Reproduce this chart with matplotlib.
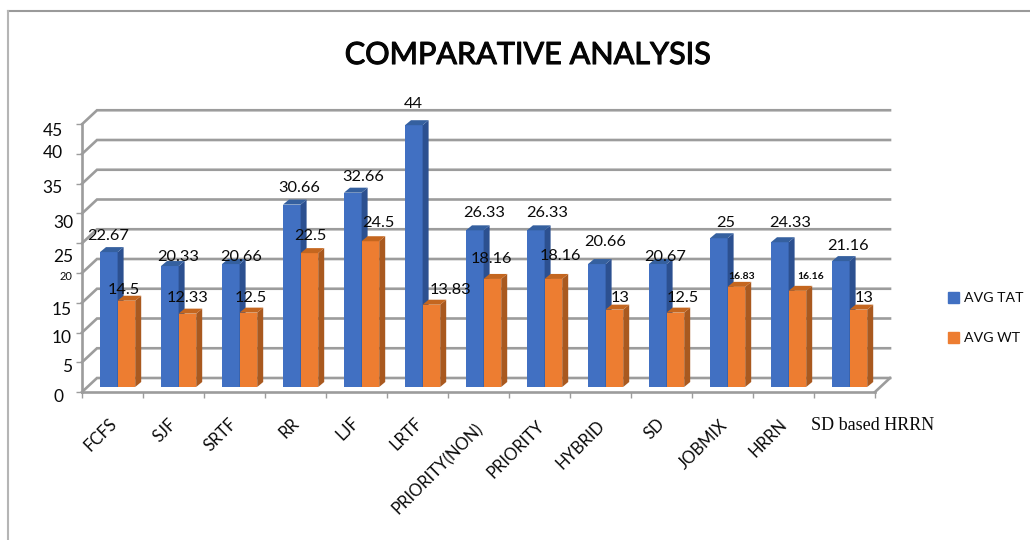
import matplotlib
matplotlib.use("Agg")
import matplotlib.pyplot as plt
import matplotlib.patheffects as pe
from matplotlib.lines import Line2D
from matplotlib.patches import Patch

categories = ["FCFS", "SJF", "SRTF", "RR", "LJF", "LRTF", "PRIORITY(NON)", "PRIORITY",
              "HYBRID", "SD", "JOBMIX", "HRRN", "SD based HRRN"]
avg_tat = [22.67, 20.33, 20.66, 30.66, 32.66, 44, 26.33, 26.33, 20.66, 20.67, 25, 24.33, 21.16]
avg_wt = [14.5, 12.33, 12.5, 22.5, 24.5, 13.83, 18.16, 18.16, 13, 12.5, 16.83, 16.16, 13]
tat_text = ["22.67", "20.33", "20.66", "30.66", "32.66", "44", "26.33", "26.33", "20.66", "20.67", "25", "24.33", "21.16"]
wt_text = ["14.5", "12.33", "12.5", "22.5", "24.5", "13.83", "18.16", "18.16", "13", "12.5", "16.83", "16.16", "13"]
y_ticks = [0, 5, 10, 15, 20, 25, 30, 35, 40, 45]

# label nudges in pixels, the original chart was hand edited
tat_dx = [-1, 8, 10, 7, 10, 0, 9, 11, 8, 7, 7, 10, 7]
tat_dy = [16, 9, 7, 17, 16, 21, 17, 17, 22, 7, 15, 19, 15]
wt_dx = [-3, 0, 2, 1, 8, 19, -1, 7, 6, 7, 5, 13, 6]
wt_dy = [11, 16, 15, 17, 18, 15, 20, 23, 12, 15, 10, 14, 12]
cat_cx = [101, 165, 221, 289, 348, 406, 438, 516, 581, 655, 703, 768, 873]
cat_cy = [435, 430, 435, 428, 429, 434, 469, 449, 445, 429, 445, 438, 426]
ytick_dx = [-19, -10, -10, -10, -10, -9, -9, -19, -19, -19]
ytick_dy = [-5, -5, -5.5, -7, -4, -14, -9.5, -4, 1, -7]

W, H = 1030, 540
X0, X1 = 82, 875
Y0 = 392
PX_Y = 5.95
GRID = "#9c9c9c"
BLUE, BLUE_SIDE, BLUE_TOP = "#4170c2", "#2c5090", "#35609f"
ORANGE, ORANGE_SIDE, ORANGE_TOP = "#ed7d31", "#a9591f", "#c4661f"
INK = "#0a0a0a"

plt.rcParams["font.family"] = ["Lato", "DejaVu Sans"]

fig = plt.figure(figsize=(W / 100, H / 100), dpi=100)
ax = fig.add_axes([X0 / W, (H - Y0) / H, (X1 - X0) / W, 45 * PX_Y / H])
ax.set_xlim(0, 13)
ax.set_ylim(0, 45)
ax.patch.set_visible(False)

px_x = 13 / (X1 - X0)   # one pixel in data units
px_y = 1 / PX_Y

# walls and floor
back_x, back_y = 15 * px_x, 14 * px_y
for v in y_ticks:
    ax.plot([0, back_x, 13 + back_x], [v, v + back_y, v + back_y], color=GRID, lw=1.9,
            clip_on=False, zorder=1, solid_joinstyle="miter")
ax.plot([13, 13 + back_x], [0, back_y], color=GRID, lw=1.9, clip_on=False, zorder=1)

for s in ["top", "right"]:
    ax.spines[s].set_visible(False)
for s in ["left", "bottom"]:
    ax.spines[s].set_color(GRID)
    ax.spines[s].set_linewidth(1.9)
    ax.spines[s].set_zorder(2)

ax.set_yticks(y_ticks)
ax.set_yticklabels([])
ax.set_xticks(range(14))
ax.set_xticklabels([])
ax.tick_params(axis="both", color=GRID, width=1, length=4.5)


def draw_bar(x, v, w, front, side, top):
    base = 5 * px_y
    dx, dy = 6 * px_x, 5 * px_y
    ax.bar(x, v, w, bottom=base, align="edge", color=front, zorder=3, clip_on=False)
    ax.fill([x + w, x + w + dx, x + w + dx, x + w],
            [base, base + dy, base + v + dy, base + v], color=side, lw=0, zorder=3, clip_on=False)
    ax.fill([x, x + dx, x + w + dx, x + w],
            [base + v, base + v + dy, base + v + dy, base + v], color=top, lw=0, zorder=3, clip_on=False)


bar_w = 17.6 * px_x
for i in range(len(categories)):
    left = i + 18 * px_x
    draw_bar(left, avg_tat[i], bar_w, BLUE, BLUE_SIDE, BLUE_TOP)
    draw_bar(left + bar_w, avg_wt[i], bar_w, ORANGE, ORANGE_SIDE, ORANGE_TOP)

for i in range(len(categories)):
    left = i + 18 * px_x
    base = 5 * px_y
    ax.annotate(tat_text[i], (left + bar_w / 2, avg_tat[i] + base), xytext=(tat_dx[i], tat_dy[i]),
                textcoords="offset pixels", ha="center", va="center", fontsize=11.8,
                color=INK, zorder=5, annotation_clip=False)
    size = 7.5 if i in (10, 11) else 11.8
    ax.annotate(wt_text[i], (left + bar_w * 1.5, avg_wt[i] + base), xytext=(wt_dx[i], wt_dy[i]),
                textcoords="offset pixels", ha="center", va="center", fontsize=size,
                color=INK, zorder=5, annotation_clip=False,
                fontweight="bold" if i in (10, 11) else "normal")

# value axis labels sit unevenly in the original
for v, dx, dy in zip(y_ticks, ytick_dx, ytick_dy):
    ax.annotate(str(v), (0, v), xytext=(dx, dy), textcoords="offset pixels", ha="right", va="center",
                fontsize=8 if v == 20 else 12.5, color=INK, annotation_clip=False)

# category labels
for i, name in enumerate(categories):
    last = i == len(categories) - 1
    ax.annotate(name, (i + 0.5, 0), xytext=(cat_cx[i] - (X0 + (i + 0.5) * 61), Y0 - cat_cy[i]),
                textcoords="offset pixels", ha="center", va="center",
                rotation=0 if last else 45, rotation_mode="anchor",
                fontsize=13 if last else 12, color=INK, annotation_clip=False,
                family=["Liberation Serif"] if last else None)

title = fig.text(527 / W, 1 - 55 / H, "COMPARATIVE ANALYSIS", ha="center", va="center",
                 fontsize=22, color="#050505")
title.set_path_effects([pe.withStroke(linewidth=0.8, foreground="#050505")])

handles = [Patch(color=BLUE, label="AVG TAT"), Patch(color=ORANGE, label="AVG WT")]
fig.legend(handles=handles, loc="center left", bbox_to_anchor=(948 / W, 1 - 318 / H), frameon=False,
           fontsize=10.2, handlelength=0.75, handleheight=0.85, handletextpad=0.35, labelspacing=1.95,
           borderpad=0, borderaxespad=0, labelcolor=INK)

# outer frame of the screenshot
fig.add_artist(Line2D([8 / W, 1], [1 - 11 / H, 1 - 11 / H], color="#9a9a9a", lw=1.5))
fig.add_artist(Line2D([8 / W, 8 / W], [0, 1 - 11 / H], color="#b5b5b5", lw=1.5))

fig.savefig("out.png", dpi=100)
